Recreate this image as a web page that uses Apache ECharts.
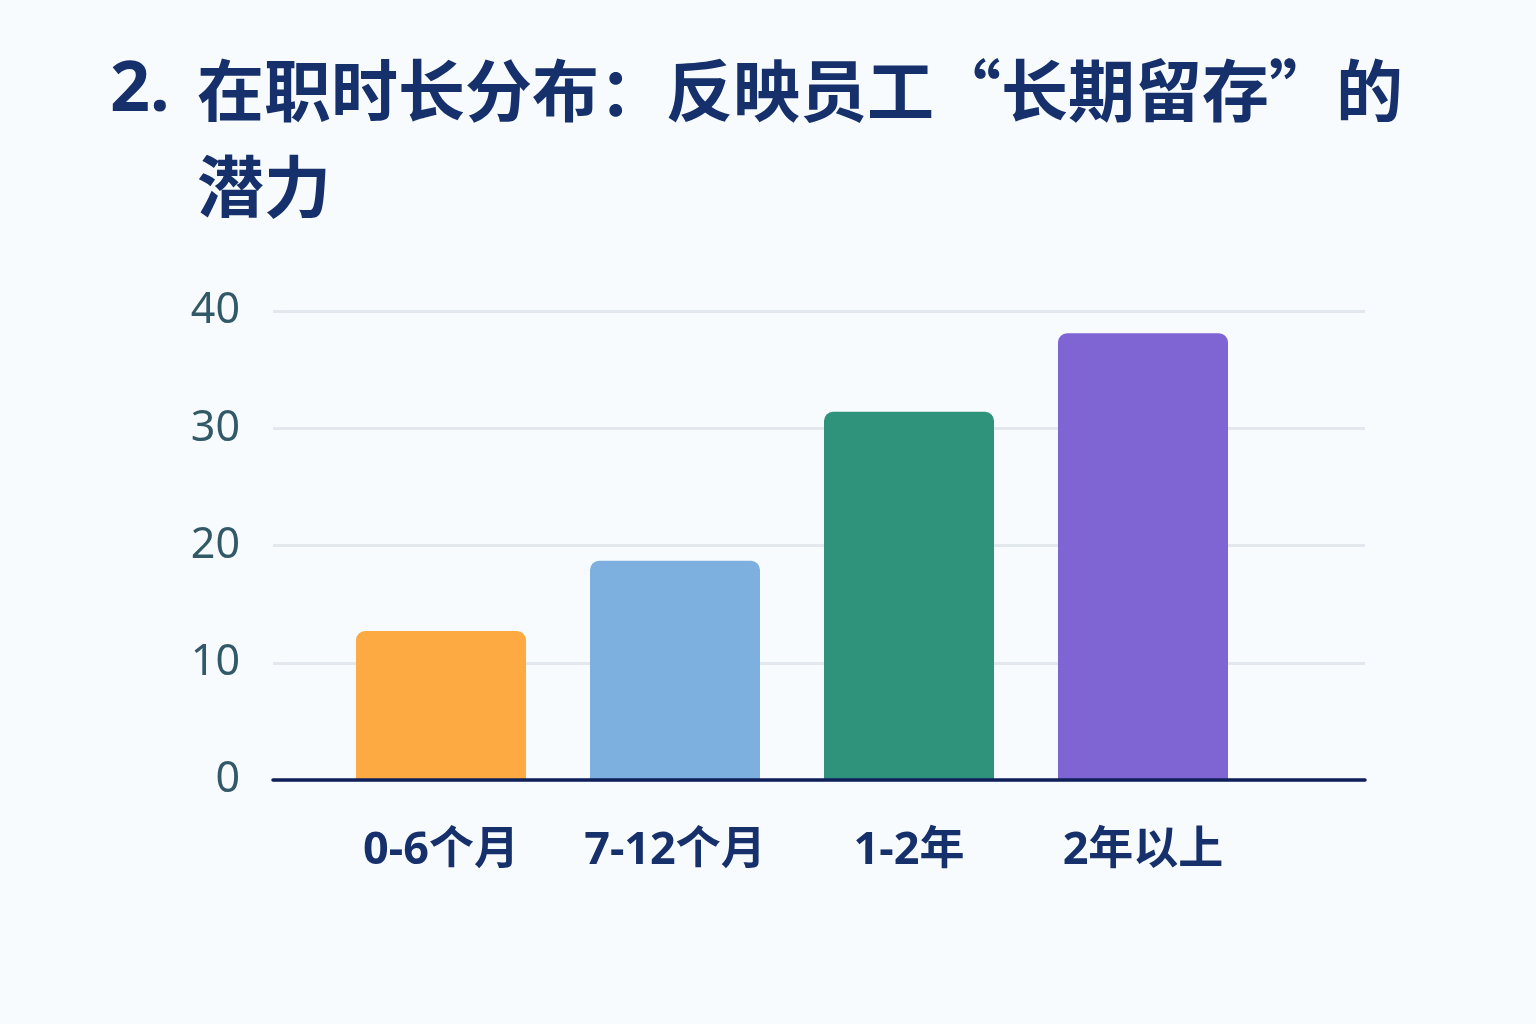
<!DOCTYPE html>
<html>
<head>
<meta charset="utf-8">
<script src="https://cdn.jsdelivr.net/npm/echarts@6/dist/echarts.min.js"></script>
<style>
  html, body { margin: 0; padding: 0; background: #f8fbfd; }
  #chart { width: 1536px; height: 1024px; }
</style>
</head>
<body>
<div id="chart"></div>
<script>
'use strict';

// ---- data ----
const categories = ['0-6个月', '7-12个月', '1-2年', '2年以上'];
const values = [12.7, 18.7, 31.4, 38.1];
const barColors = ['#fdaa42', '#7eb0df', '#2e937a', '#7f64d4'];
const yTicks = [0, 10, 20, 30, 40];

// ---- palette ----
const C = { navy: '#15306b', axis: '#0e1f5a', tick: '#325968', grid: '#e2e8ee' };
const FONT = '"Noto Sans", "Noto Sans CJK SC", sans-serif';
const CJK = '"Noto Sans CJK SC", "Noto Sans", sans-serif';

const chart = echarts.init(document.getElementById('chart'));
chart.setOption({
  backgroundColor: '#f8fbfd',
  textStyle: { fontFamily: FONT },
  title: [
    { text: '2.', left: 110, top: 43, padding: 0,
      textStyle: { fontSize: 70, fontWeight: 'bold', color: C.navy, lineHeight: 96, fontFamily: FONT } },
    { text: '在职时长分布：反映员工“长期留存”的\n潜力', left: 197, top: 43, padding: 0,
      textStyle: { fontSize: 67, fontWeight: 'bold', color: C.navy, lineHeight: 96, fontFamily: CJK } },
  ],
  grid: [
    { left: 273, right: 171, top: 311, bottom: 244 },
    { left: 324, right: 276, top: 311, bottom: 244 },
  ],
  xAxis: [
    { gridIndex: 0, type: 'value', min: 0, max: 1, z: 5,
      axisLine: { show: true, lineStyle: { color: C.axis, width: 3.5 } },
      axisTick: { show: false }, axisLabel: { show: false }, splitLine: { show: false } },
    { gridIndex: 1, type: 'category', data: categories,
      axisLine: { show: false }, axisTick: { show: false },
      axisLabel: { interval: 0, margin: 49, fontSize: 45, fontWeight: 'bold', color: C.navy, fontFamily: FONT } },
  ],
  yAxis: [
    { gridIndex: 0, type: 'value', min: yTicks[0], max: yTicks[yTicks.length - 1], interval: 10,
      axisLine: { show: false }, axisTick: { show: false },
      axisLabel: { margin: 33, fontSize: 43, color: C.tick, fontFamily: FONT },
      splitLine: { lineStyle: { color: C.grid, width: 3 } } },
    { gridIndex: 1, type: 'value', min: 0, max: 40, show: false, splitLine: { show: false } },
  ],
  series: [{
    type: 'bar', xAxisIndex: 1, yAxisIndex: 1, barWidth: 170,
    data: values.map((v, i) => ({ value: v, itemStyle: { color: barColors[i], borderRadius: [9, 9, 0, 0] } })),
  }],
});
</script>
</body>
</html>
